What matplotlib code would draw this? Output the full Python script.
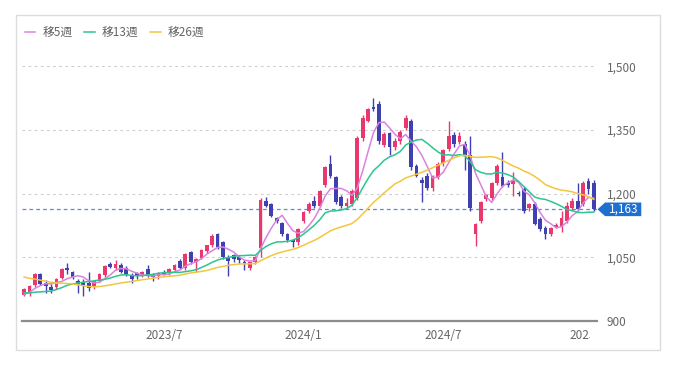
import matplotlib
matplotlib.use("Agg")
import matplotlib.pyplot as plt
import numpy as np
import pandas as pd
from matplotlib.patches import Rectangle, Polygon
from matplotlib.transforms import Bbox, TransformedBbox, blended_transform_factory

plt.rcParams['font.family'] = ['Noto Sans CJK JP', 'DejaVu Sans']

# weekly candles, first week = 2023-01-02
opens = [962, 965, 985, 1010, 990, 980, 980, 1002, 1025, 1015,
         995, 992, 990, 980, 995, 1008, 1035, 1025, 1032, 1025,
         1008, 1012, 1008, 1022, 1010, 1005, 1016, 1012, 1020, 1042,
         1025, 1062, 1040, 1048, 1065, 1078, 1105, 1085, 1048, 1055,
         1050, 1040, 1025, 1038, 1072, 1182, 1175, 1142, 1130, 1105,
         1090, 1086, 1135, 1160, 1182, 1172, 1220, 1270, 1238, 1192,
         1170, 1176, 1190, 1330, 1372, 1403, 1412, 1315, 1342, 1310,
         1325, 1355, 1370, 1266, 1232, 1242, 1214, 1240, 1271, 1305,
         1337, 1322, 1318, 1290, 1105, 1136, 1188, 1190, 1224, 1238,
         1226, 1222, 1202, 1212, 1165, 1176, 1141, 1120, 1106, 1122,
         1124, 1136, 1167, 1183, 1176, 1230, 1226]
highs = [978, 985, 1012, 1014, 996, 986, 1002, 1025, 1036, 1018,
         1000, 998, 1015, 997, 1012, 1032, 1040, 1044, 1036, 1030,
         1012, 1016, 1018, 1032, 1013, 1015, 1020, 1025, 1035, 1046,
         1060, 1066, 1048, 1070, 1080, 1104, 1108, 1088, 1055, 1058,
         1054, 1044, 1040, 1054, 1190, 1192, 1178, 1146, 1133, 1108,
         1094, 1120, 1158, 1180, 1195, 1208, 1265, 1292, 1242, 1196,
         1190, 1210, 1335, 1385, 1402, 1425, 1418, 1345, 1346, 1330,
         1350, 1385, 1375, 1270, 1238, 1248, 1245, 1275, 1305, 1372,
         1345, 1345, 1325, 1335, 1130, 1182, 1198, 1228, 1270, 1297,
         1232, 1250, 1206, 1215, 1178, 1180, 1145, 1124, 1122, 1130,
         1160, 1180, 1190, 1226, 1230, 1236, 1232]
lows = [958, 960, 980, 985, 966, 965, 976, 998, 1010, 1000,
        966, 960, 970, 976, 992, 1004, 1025, 1020, 1012, 1005,
        990, 1000, 1004, 1003, 995, 1000, 1008, 1008, 1015, 1022,
        1020, 1035, 1015, 1045, 1060, 1075, 1070, 1045, 1005, 1040,
        1036, 1020, 1020, 1034, 1050, 1168, 1145, 1130, 1100, 1085,
        1075, 1080, 1130, 1155, 1165, 1168, 1215, 1236, 1175, 1165,
        1165, 1172, 1185, 1325, 1368, 1395, 1318, 1310, 1290, 1302,
        1318, 1350, 1255, 1238, 1180, 1208, 1205, 1235, 1265, 1300,
        1310, 1318, 1255, 1160, 1077, 1130, 1183, 1185, 1220, 1215,
        1215, 1195, 1195, 1155, 1160, 1125, 1112, 1094, 1100, 1118,
        1110, 1130, 1160, 1160, 1170, 1200, 1158]
closes = [975, 983, 1010, 988, 983, 973, 1000, 1022, 1020, 1003,
          988, 985, 978, 995, 1010, 1030, 1028, 1035, 1015, 1008,
          1000, 1005, 1015, 1006, 1004, 1012, 1010, 1022, 1032, 1025,
          1058, 1038, 1045, 1068, 1078, 1100, 1075, 1050, 1042, 1045,
          1044, 1036, 1038, 1050, 1185, 1172, 1148, 1135, 1105, 1090,
          1086, 1117, 1156, 1176, 1172, 1205, 1262, 1242, 1180, 1172,
          1178, 1207, 1332, 1378, 1400, 1400, 1325, 1340, 1309, 1325,
          1345, 1377, 1262, 1242, 1226, 1214, 1242, 1270, 1302, 1335,
          1318, 1335, 1290, 1167, 1129, 1180, 1196, 1224, 1266, 1219,
          1220, 1232, 1198, 1160, 1175, 1129, 1117, 1106, 1118, 1127,
          1143, 1171, 1183, 1164, 1226, 1212, 1163]
# closes of the 26 weeks before the chart (only feed the moving averages)
prior_closes = [1060, 1055, 1062, 1050, 1048, 1040, 1045, 1035, 1038, 1030,
                1042, 1036, 1030, 1010, 995, 985, 978, 970, 960, 955,
                962, 950, 958, 965, 955, 960]

last_price = 1163
ma_labels = ['移5週', '移13週', '移26週']
ma_windows = [5, 13, 26]
ma_colors = ['#d983e0', '#2cc58f', '#f3c63c']
x_tick_labels = ['2023/7', '2024/1', '2024/7', '2025/1']
y_ticks = [900, 1050, 1200, 1350, 1500]

up_color = '#e8386d'
down_color = '#4040b0'
text_gray = '#666666'

dates = pd.date_range('2023-01-02', periods=len(closes), freq='7D')
o = np.array(opens)
h = np.array(highs)
l = np.array(lows)
c = np.array(closes)
x = np.arange(len(c))

fig = plt.figure(figsize=(6.73, 3.72), dpi=100)
fig.patches.append(Rectangle((16 / 673, 22 / 372), 644 / 673, 335 / 372,
                             transform=fig.transFigure, fill=False,
                             edgecolor='#dcdcdc', lw=1))
ax = fig.add_axes([22 / 673, 51 / 372, 575 / 673, 276 / 372])

# candles
cols = np.where(c >= o, up_color, down_color)
ax.vlines(x, l, h, colors=cols, lw=1, zorder=2)
body_low = np.minimum(o, c)
body_h = np.maximum(np.abs(c - o), 2)
ax.bar(x, body_h, bottom=body_low, width=0.7, color=cols, zorder=3)

# moving averages
all_close = pd.Series(prior_closes + closes, dtype=float)
handles = []
for w, lab, col in zip(ma_windows, ma_labels, ma_colors):
    ma = all_close.rolling(w).mean().values[len(prior_closes):]
    line, = ax.plot(x, ma, color=col, lw=1.1, zorder=4, label=lab)
    handles.append(line)

# current price line and tag
ax.axhline(last_price, color='#5a8fd8', lw=0.9, ls=(0, (3, 2.5)), zorder=1)
tr = blended_transform_factory(ax.transAxes, ax.transData)
tag = Polygon([(1.001, last_price), (1.014, last_price + 16),
               (1.077, last_price + 16), (1.077, last_price - 16),
               (1.014, last_price - 16)], closed=True, transform=tr,
              facecolor='#1d6fd0', edgecolor='none', clip_on=False, zorder=5)
ax.add_patch(tag)
ax.text(1.046, last_price, f'{last_price:,}', transform=tr, color='white',
        fontsize=8.5, ha='center', va='center', zorder=6)

ax.set_xlim(-0.4, len(c) - 0.4)
ax.set_ylim(900, 1550)

# y axis on the right
ax.yaxis.tick_right()
ax.set_yticks(y_ticks)
ax.set_yticklabels([f'{v:,}' for v in y_ticks])
ax.tick_params(axis='y', length=0, pad=7, labelsize=8.5, labelcolor=text_gray)
ax.grid(axis='y', color='#cfcfcf', lw=0.8, ls=(0, (2.5, 3)))
ax.set_axisbelow(True)

# x ticks at the first week of Jan / Jul
tick_pos = []
for lab in x_tick_labels:
    yy, mm = lab.split('/')
    idx = np.where((dates.year == int(yy)) & (dates.month == int(mm)))[0][0]
    tick_pos.append(idx)
ax.set_xticks(tick_pos)
ax.set_xticklabels(x_tick_labels)
ax.tick_params(axis='x', length=0, pad=6, labelsize=8.5, labelcolor=text_gray)

for s in ['top', 'right', 'left']:
    ax.spines[s].set_visible(False)
ax.spines['bottom'].set_color('#8c8c8c')
ax.spines['bottom'].set_linewidth(1.6)

# last label is cut at the plot's right edge, like the original
clip = TransformedBbox(Bbox([[0, 0], [590 / 673, 1]]), fig.transFigure)
last_tick = ax.xaxis.get_major_ticks()[-1]
last_tick.label1.set_clip_box(clip)
last_tick.label1.set_clip_on(True)

fig.legend(handles=handles, loc='upper left', bbox_to_anchor=(14 / 673, 1 - 16 / 372),
           ncol=3, frameon=False, fontsize=8.5, handlelength=0.9,
           handletextpad=0.6, columnspacing=1.0, labelcolor=text_gray)

fig.savefig('out.png', dpi=100)
